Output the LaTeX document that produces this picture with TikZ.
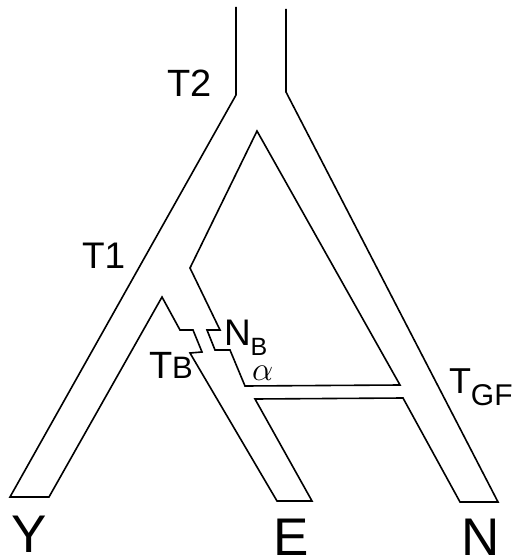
\documentclass[tikz,border=0pt]{standalone}
\usepackage{fontspec}
\setmainfont{Liberation Sans}
\begin{document}
\begin{tikzpicture}[x=1pt,y=-1pt,
  edge/.style={draw=black,line width=1.6pt,line join=miter},
  lab/.style={anchor=base west,inner sep=0pt,outer sep=0pt,text depth=0pt}]
\useasboundingbox (0,0) rectangle (514,559);

% outer outline of the tree (trunk, branches to Y, E and N)
\draw[edge] (236,7) -- (236,95) -- (10,497) -- (49,497) -- (162,297)
  -- (180,330) -- (193,330) -- (202,352) -- (190,353) -- (277,501)
  -- (312,501) -- (255,399) -- (403,398) -- (460,502) -- (498,502)
  -- (286,92) -- (286,9);

% inner region bounded by the NB branch and the alpha bridge
\draw[edge] (257,131) -- (190,268) -- (220,330) -- (207,330) -- (215,350)
  -- (230,350) -- (245,386) -- (400,385) -- cycle;

% labels
\node[lab,font=\fontsize{38}{40}\selectfont] (t2) at (167,97) {T2};
\node[lab,font=\fontsize{37}{40}\selectfont] (t1) at (82,268) {T1};
\node[lab,font=\fontsize{38}{40}\selectfont] (tb) at (149,378) {T\fontsize{31}{34}\selectfont B};
\node[lab,font=\fontsize{37}{40}\selectfont] (nb) at (224,345) {N\raisebox{-10pt}{\fontsize{25}{28}\selectfont B}};
\node[lab] (al) at (252,380) {\scalebox{1.35}{\fontsize{24.88}{26}\selectfont$\alpha$}};
\node[lab,font=\fontsize{36}{40}\selectfont] (tgf) at (449,393) {T\raisebox{-12pt}{\fontsize{30}{32}\selectfont GF}};
\node[lab,font=\fontsize{53}{56}\selectfont] (y) at (11,552) {Y};
\node[lab,font=\fontsize{53}{56}\selectfont] (e) at (273,555) {E};
\node[lab,font=\fontsize{53}{56}\selectfont] (n) at (461,555) {N};
\end{tikzpicture}
\end{document}
